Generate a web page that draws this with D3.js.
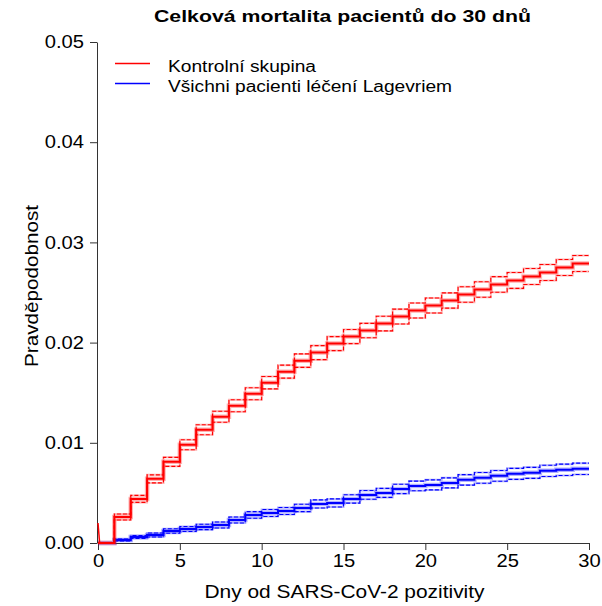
<!DOCTYPE html>
<html>
<head>
<meta charset="utf-8">
<script src="https://cdn.jsdelivr.net/npm/d3@7"></script>
<style>
  body { margin: 0; background: #fff; }
  text { font-family: "Liberation Sans", Arial, sans-serif; fill: #000; }
</style>
</head>
<body>
<div id="chart"></div>
<script>
// step start days, the last step runs on to day 30
var days = [0, 1, 2, 3, 4, 5, 6, 7, 8, 9, 10, 11, 12, 13, 14, 15, 16, 17, 18, 19, 20, 21, 22, 23, 24, 25, 26, 27, 28, 29];
var endDay = 30;

// control group (red): estimate and confidence band
var redEst  = [0, 0.0026, 0.0044, 0.0064, 0.0081, 0.0098, 0.0113, 0.0126, 0.0137, 0.0149, 0.0160, 0.0171, 0.0182, 0.0190, 0.0199, 0.0206, 0.0212, 0.0219, 0.0226, 0.0232, 0.0237, 0.0242, 0.0248, 0.0253, 0.0258, 0.0262, 0.0266, 0.0270, 0.0275, 0.0279];
var redLow  = [0, 0.0023, 0.00405, 0.0060, 0.00765, 0.0093, 0.0108, 0.01205, 0.0131, 0.0143, 0.01538, 0.01645, 0.01753, 0.0183, 0.0192, 0.0199, 0.02048, 0.02117, 0.02186, 0.02245, 0.02295, 0.02344, 0.02403, 0.02452, 0.02502, 0.02541, 0.0258, 0.0262, 0.0267, 0.0271];
var redHigh = [0, 0.0029, 0.00475, 0.0068, 0.00855, 0.0103, 0.0118, 0.01315, 0.0143, 0.0155, 0.01662, 0.01775, 0.01887, 0.0197, 0.0206, 0.0213, 0.02192, 0.02263, 0.02334, 0.02395, 0.02445, 0.02496, 0.02557, 0.02608, 0.02658, 0.02699, 0.0274, 0.0278, 0.0283, 0.0287];
// small spike of the red curve right at day 0
var spikeDays = [0, 0.1];
var spikeValues = [0.002, 0];

// all patients treated with Lagevrio (blue)
var blueEst  = [0, 0.0003, 0.0006, 0.0008, 0.0012, 0.0014, 0.0016, 0.0018, 0.0023, 0.0028, 0.0030, 0.0032, 0.0035, 0.0039, 0.0040, 0.0044, 0.0048, 0.0050, 0.0054, 0.0057, 0.0058, 0.0060, 0.0063, 0.0065, 0.0067, 0.0069, 0.0070, 0.0072, 0.0073, 0.0074];
var blueLow  = [0, 0.0002, 0.00045, 0.0006, 0.00098, 0.00115, 0.00133, 0.0015, 0.0020, 0.00247, 0.00265, 0.00285, 0.00313, 0.0035, 0.0036, 0.00398, 0.00436, 0.00455, 0.00493, 0.00522, 0.0053, 0.0055, 0.00578, 0.00597, 0.00616, 0.00635, 0.00645, 0.00664, 0.00673, 0.00683];
var blueHigh = [0, 0.0004, 0.00075, 0.0010, 0.00142, 0.00165, 0.00187, 0.0021, 0.0026, 0.00313, 0.00335, 0.00355, 0.00387, 0.0043, 0.0044, 0.00482, 0.00524, 0.00545, 0.00587, 0.00618, 0.0063, 0.0065, 0.00682, 0.00703, 0.00724, 0.00745, 0.00755, 0.00776, 0.00787, 0.00797];

var xTicks = [0, 5, 10, 15, 20, 25, 30];
var yTicks = [0, 0.01, 0.02, 0.03, 0.04, 0.05];

var title = "Celková mortalita pacientů do 30 dnů";
var xTitle = "Dny od SARS-CoV-2 pozitivity";
var yTitle = "Pravděpodobnost";
var legendNames = ["Kontrolní skupina", "Všichni pacienti léčení Lagevriem"];
var legendColors = ["#ff0000", "#0000ff"];

var svgWidth = 602, svgHeight = 606;

var svg = d3.select("#chart").append("svg")
    .attr("width", svgWidth)
    .attr("height", svgHeight);

var x = d3.scaleLinear().domain([0, 30]).range([98, 589]);
var y = d3.scaleLinear().domain([0, 0.05]).range([543, 42]);

// stretch text a bit wider, the original fonts are wider than Liberation
function widen(sel, k) {
    sel.each(function() {
        var w = this.getComputedTextLength();
        d3.select(this).attr("textLength", w * k).attr("lengthAdjust", "spacingAndGlyphs");
    });
}

// axes
var xAxis = svg.append("g")
    .attr("transform", "translate(0,543)")
    .call(d3.axisBottom(x).tickValues(xTicks).tickSize(7).tickPadding(4).tickSizeOuter(0));
var yAxis = svg.append("g")
    .attr("transform", "translate(97,0)")
    .call(d3.axisLeft(y).tickValues(yTicks).tickFormat(d3.format(".2f")).tickSize(7).tickPadding(6).tickSizeOuter(0));

svg.selectAll(".tick text").style("font-size", "18px").attr("fill", "#000");
svg.selectAll(".domain, .tick line").attr("stroke", "#333").attr("stroke-width", 1);
widen(svg.selectAll(".tick text"), 1.12);

function stepPoints(vals) {
    var pts = days.map((d, i) => [d, vals[i]]);
    pts.push([endDay, vals[vals.length - 1]]);
    return pts;
}

var stepLine = d3.line()
    .x(d => x(d[0]))
    .y(d => y(d[1]))
    .curve(d3.curveStepAfter);

function drawSeries(est, low, high, color) {
    [low, high].forEach(function(band) {
        svg.append("path")
           .attr("d", stepLine(stepPoints(band)))
           .attr("fill", "none")
           .attr("stroke", color)
           .attr("stroke-opacity", 0.3)
           .attr("stroke-width", 2);
        svg.append("path")
           .attr("d", stepLine(stepPoints(band)))
           .attr("fill", "none")
           .attr("stroke", color)
           .attr("stroke-width", 1.1)
           .attr("stroke-dasharray", "4,2");
    });
    svg.append("path")
       .attr("d", stepLine(stepPoints(est)))
       .attr("fill", "none")
       .attr("stroke", color)
       .attr("stroke-opacity", 0.3)
       .attr("stroke-width", 4.5);
    svg.append("path")
       .attr("d", stepLine(stepPoints(est)))
       .attr("fill", "none")
       .attr("stroke", color)
       .attr("stroke-width", 2);
}

drawSeries(blueEst, blueLow, blueHigh, "#0000ff");
drawSeries(redEst, redLow, redHigh, "#ff0000");

svg.append("path")
   .attr("d", d3.line().x(d => x(d[0])).y(d => y(d[1]))(spikeDays.map((d, i) => [d, spikeValues[i]])))
   .attr("fill", "none")
   .attr("stroke", "#ff0000")
   .attr("stroke-width", 1.5);

// title
svg.append("text")
   .attr("x", 342.5)
   .attr("y", 22)
   .attr("text-anchor", "middle")
   .style("font-size", "17px")
   .style("font-weight", "bold")
   .attr("textLength", 377)
   .attr("lengthAdjust", "spacingAndGlyphs")
   .text(title);

// axis titles
svg.append("text")
   .attr("x", 344.5)
   .attr("y", 598)
   .attr("text-anchor", "middle")
   .style("font-size", "18px")
   .attr("textLength", 280)
   .attr("lengthAdjust", "spacingAndGlyphs")
   .text(xTitle);

svg.append("text")
   .attr("transform", "translate(38,286) rotate(-90)")
   .attr("text-anchor", "middle")
   .style("font-size", "18px")
   .attr("textLength", 162)
   .attr("lengthAdjust", "spacingAndGlyphs")
   .text(yTitle);

// legend
var legendWidths = [148, 284];
var legend = svg.append("g");
legendNames.forEach(function(name, i) {
    legend.append("line")
        .attr("x1", 115).attr("x2", 150)
        .attr("y1", 63.5 + i * 20).attr("y2", 63.5 + i * 20)
        .style("stroke", legendColors[i])
        .style("stroke-width", "1.3px");
    legend.append("text")
        .attr("x", 168)
        .attr("y", 71.5 + i * 20)
        .style("font-size", "16px")
        .attr("textLength", legendWidths[i])
        .attr("lengthAdjust", "spacingAndGlyphs")
        .text(name);
});
</script>
</body>
</html>
